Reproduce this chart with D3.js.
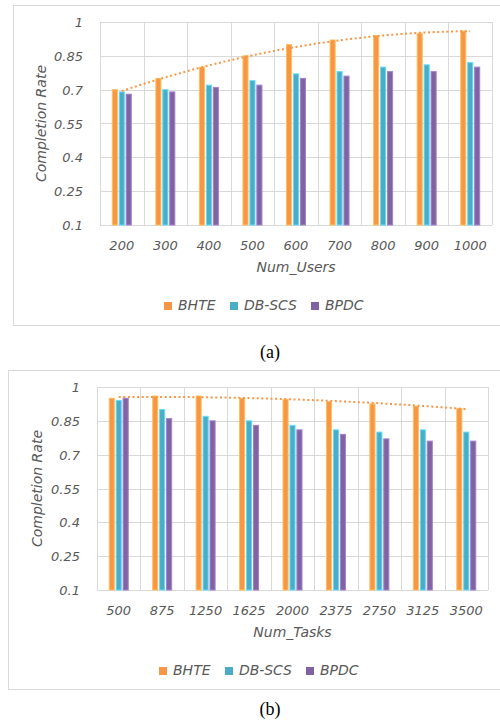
<!DOCTYPE html>
<meta charset="utf-8">
<style>
body { margin: 0; background: #fff; }
svg text { font-family: "DejaVu Sans", Verdana, sans-serif; font-style: italic; fill: #595959; }
svg text.caption { font-family: "Liberation Serif", "Times New Roman", serif; font-style: normal; fill: #000; font-size: 18px; }
.grid line { stroke: #d9d9d9; stroke-width: 1; shape-rendering: crispEdges; }
.trend { fill: none; stroke: #f79646; stroke-width: 2; stroke-dasharray: 2,2.6; }
</style>
<svg width="500" height="721"></svg>
<script src="https://cdnjs.cloudflare.com/ajax/libs/d3/7.8.5/d3.min.js"></script>
<script>

// series + ticks
var seriesNames = ["BHTE", "DB-SCS", "BPDC"];
var seriesColors = ["#f79646", "#4bacc6", "#8064a2"];
var yTicks = [0.1, 0.25, 0.4, 0.55, 0.7, 0.85, 1];

// (a) varying number of users
var userCats = ["200", "300", "400", "500", "600", "700", "800", "900", "1000"];
var userBHTE = [0.70, 0.75, 0.80, 0.85, 0.90, 0.92, 0.94, 0.95, 0.96];
var userDBSCS = [0.69, 0.70, 0.72, 0.74, 0.77, 0.78, 0.80, 0.81, 0.82];
var userBPDC = [0.68, 0.69, 0.71, 0.72, 0.75, 0.76, 0.78, 0.78, 0.80];

// (b) varying number of tasks
var taskCats = ["500", "875", "1250", "1625", "2000", "2375", "2750", "3125", "3500"];
var taskBHTE = [0.95, 0.96, 0.96, 0.95, 0.945, 0.935, 0.925, 0.915, 0.905];
var taskDBSCS = [0.94, 0.90, 0.87, 0.85, 0.83, 0.81, 0.80, 0.81, 0.80];
var taskBPDC = [0.95, 0.86, 0.85, 0.83, 0.81, 0.79, 0.77, 0.76, 0.76];

var svg = d3.select("svg");

// 2nd order polynomial trendline (least squares), like excel's
function polyFit(ys) {
  var s = [0, 0, 0, 0, 0], t = [0, 0, 0];
  ys.forEach(function(y, i) {
    var x = i + 1;
    for (var k = 0; k < 5; k++) s[k] += Math.pow(x, k);
    for (var k = 0; k < 3; k++) t[k] += y * Math.pow(x, k);
  });
  var A = [[s[0], s[1], s[2], t[0]], [s[1], s[2], s[3], t[1]], [s[2], s[3], s[4], t[2]]];
  for (var i = 0; i < 3; i++) {
    for (var j = i + 1; j < 3; j++) {
      var f = A[j][i] / A[i][i];
      for (var k = i; k < 4; k++) A[j][k] -= f * A[i][k];
    }
  }
  var c = [0, 0, 0];
  for (var i = 2; i >= 0; i--) {
    var v = A[i][3];
    for (var k = i + 1; k < 3; k++) v -= A[i][k] * c[k];
    c[i] = v / A[i][i];
  }
  return function(x) { return c[0] + c[1] * x + c[2] * x * x; };
}

function drawChart(o) {
  var g = svg.append("g");

  g.append("rect")
    .attr("x", o.box[0] + 0.5).attr("y", o.box[1] + 0.5)
    .attr("width", o.box[2]).attr("height", o.box[3])
    .attr("fill", "#fff").attr("stroke", "#d9d9d9");

  var x = d3.scaleBand().domain(o.cats).range([o.left, o.right]);
  var y = d3.scaleLinear().domain([0.1, 1]).range([o.bottom, o.top]);
  var inner = d3.scaleBand().domain(seriesNames).range([-10, 10]).paddingInner(0.12);

  var grid = g.append("g").attr("class", "grid");
  grid.selectAll(".h").data(yTicks).enter().append("line")
    .attr("x1", o.left).attr("x2", o.right)
    .attr("y1", function(d) { return Math.round(y(d)) + 0.5; })
    .attr("y2", function(d) { return Math.round(y(d)) + 0.5; });
  grid.selectAll(".v").data(o.cats.concat([null])).enter().append("line")
    .attr("x1", function(d, i) { return Math.round(o.left + i * x.step()) + 0.5; })
    .attr("x2", function(d, i) { return Math.round(o.left + i * x.step()) + 0.5; })
    .attr("y1", o.top).attr("y2", o.bottom);

  // y labels
  g.selectAll(".yt").data(yTicks).enter().append("text")
    .attr("x", o.left - 17).attr("y", function(d) { return y(d) + 5; })
    .attr("text-anchor", "end").style("font-size", "13px")
    .text(function(d) { return d; });

  g.append("text")
    .attr("transform", "translate(" + o.ytitleX + "," + ((o.top + o.bottom) / 2) + ") rotate(-90)")
    .attr("text-anchor", "middle").style("font-size", "14px")
    .text("Completion Rate");

  // x labels
  g.selectAll(".xt").data(o.cats).enter().append("text")
    .attr("x", function(d) { return x(d) + x.bandwidth() / 2; })
    .attr("y", o.bottom + 25)
    .attr("text-anchor", "middle").style("font-size", "13px")
    .text(function(d) { return d; });

  g.append("text")
    .attr("x", (o.left + o.right) / 2).attr("y", o.bottom + 47)
    .attr("text-anchor", "middle").style("font-size", "14px")
    .text(o.xtitle);

  // bars
  o.series.forEach(function(vals, si) {
    var col = seriesColors[si];
    g.append("g").selectAll("rect").data(vals).enter().append("rect")
      .attr("x", function(d, i) { return x(o.cats[i]) + x.bandwidth() / 2 + inner(seriesNames[si]) + 0.5; })
      .attr("y", function(d) { return y(d); })
      .attr("width", inner.bandwidth() - 1)
      .attr("height", function(d) { return o.bottom - y(d); })
      .attr("fill", col)
      .attr("stroke", d3.color(col).brighter(0.7))
      .attr("stroke-width", 1);
  });

  // trendline of BHTE
  var fit = polyFit(o.series[0]);
  var xi = d3.scaleLinear().domain([1, o.cats.length])
    .range([x(o.cats[0]) + x.bandwidth() / 2, x(o.cats[o.cats.length - 1]) + x.bandwidth() / 2]);
  var line = d3.line()
    .x(function(d) { return xi(d); })
    .y(function(d) { return y(fit(d)); });
  g.append("path").attr("class", "trend")
    .attr("d", line(d3.range(1, o.cats.length + 0.001, 0.1)));

  // legend
  var lg = g.append("g").attr("transform", "translate(" + o.legendX + "," + o.legendY + ")");
  var offs = [0, 66, 147];
  seriesNames.forEach(function(name, i) {
    lg.append("rect").attr("x", offs[i]).attr("y", -8).attr("width", 8).attr("height", 8)
      .attr("fill", seriesColors[i]);
    lg.append("text").attr("x", offs[i] + 14).attr("y", 0).style("font-size", "14px").text(name);
  });

  svg.append("text").attr("class", "caption")
    .attr("x", 270).attr("y", o.captionY).attr("text-anchor", "middle")
    .text(o.caption);
}

drawChart({
  box: [13, 5, 500, 320],
  cats: userCats, series: [userBHTE, userDBSCS, userBPDC],
  left: 100, right: 492, top: 22, bottom: 225,
  ytitleX: 46, xtitle: "Num_Users",
  legendX: 164, legendY: 310,
  caption: "(a)", captionY: 358
});

drawChart({
  box: [8, 370, 500, 319],
  cats: taskCats, series: [taskBHTE, taskDBSCS, taskBPDC],
  left: 97, right: 488, top: 387, bottom: 590,
  ytitleX: 42, xtitle: "Num_Tasks",
  legendX: 159, legendY: 675,
  caption: "(b)", captionY: 715
});

</script>
